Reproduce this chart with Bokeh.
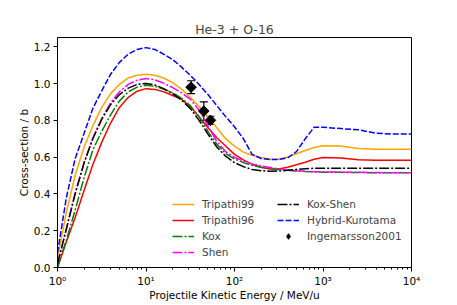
import math
from bokeh.plotting import figure
from bokeh.models import (ColumnDataSource, FixedTicker, PrintfTickFormatter, Legend,
                          LegendItem, Whisker, TeeHead)
from bokeh.embed import file_html
from bokeh.resources import INLINE

# ---------------- data ----------------
energy = [1.0, 1.26, 1.58, 2.0, 2.51, 3.16, 3.98, 5.01, 6.31, 7.94,
          10.0, 12.6, 15.8, 20.0, 25.1, 31.6, 39.8, 50.1, 63.1, 79.4,
          100, 126, 158, 200, 251, 316, 398, 501, 631, 794,
          1000, 1585, 2512, 3981, 6310, 10000]

tripathi99 = [0.05, 0.30, 0.50, 0.655, 0.77, 0.87, 0.945, 0.995, 1.03, 1.045,
              1.05, 1.045, 1.03, 1.005, 0.97, 0.925, 0.875, 0.82, 0.76, 0.70,
              0.66, 0.627, 0.61, 0.598, 0.59, 0.588, 0.60, 0.618, 0.636, 0.652,
              0.662, 0.66, 0.647, 0.643, 0.643, 0.643]

tripathi96 = [0.0, 0.14, 0.27, 0.42, 0.56, 0.68, 0.785, 0.87, 0.925, 0.958,
              0.972, 0.968, 0.955, 0.935, 0.915, 0.875, 0.82, 0.76, 0.705, 0.66,
              0.615, 0.585, 0.56, 0.545, 0.535, 0.535, 0.545, 0.558, 0.572, 0.588,
              0.598, 0.595, 0.586, 0.583, 0.583, 0.583]

kox = [0.0, 0.15, 0.31, 0.49, 0.64, 0.74, 0.83, 0.905, 0.955, 0.98,
       0.99, 0.985, 0.97, 0.95, 0.92, 0.88, 0.82, 0.74, 0.67, 0.62,
       0.59, 0.57, 0.555, 0.545, 0.538, 0.533, 0.528, 0.525, 0.522, 0.52,
       0.518, 0.517, 0.516, 0.515, 0.515, 0.515]

shen = [0.02, 0.21, 0.40, 0.57, 0.705, 0.81, 0.895, 0.955, 0.995, 1.018,
        1.027, 1.02, 1.002, 0.978, 0.95, 0.915, 0.855, 0.77, 0.685, 0.63,
        0.598, 0.578, 0.563, 0.552, 0.543, 0.536, 0.53, 0.526, 0.523, 0.521,
        0.52, 0.518, 0.517, 0.516, 0.515, 0.515]

kox_shen = [0.02, 0.21, 0.40, 0.57, 0.70, 0.805, 0.885, 0.94, 0.975, 0.995,
            1.0, 0.992, 0.972, 0.945, 0.91, 0.865, 0.80, 0.725, 0.655, 0.605,
            0.57, 0.548, 0.533, 0.526, 0.523, 0.524, 0.528, 0.533, 0.537, 0.539,
            0.54, 0.54, 0.54, 0.54, 0.54, 0.54]

hybrid_kurotama = [0.08, 0.38, 0.59, 0.73, 0.865, 0.96, 1.05, 1.115, 1.16, 1.185,
                   1.195, 1.185, 1.16, 1.13, 1.09, 1.045, 0.995, 0.94, 0.88, 0.82,
                   0.765, 0.70, 0.615, 0.592, 0.587, 0.587, 0.595, 0.63, 0.70, 0.762,
                   0.762, 0.755, 0.748, 0.73, 0.725, 0.725]

exp_energy = [32.3, 45.0, 53.5]
exp_sigma = [0.98, 0.85, 0.80]
exp_err = [0.035, 0.05, 0.022]

x_ticks = [1, 10, 100, 1000, 10000]
x_tick_labels = ["10⁰", "10¹", "10²", "10³", "10⁴"]
y_ticks = [0.0, 0.2, 0.4, 0.6, 0.8, 1.0, 1.2]

FONT = "DejaVu Sans"
FS = "10.5px"

p = figure(width=457, height=305, x_axis_type="log", x_range=(1, 1e4), y_range=(0, 1.25),
           output_backend="svg", toolbar_location=None, title="He-3 + O-16",
           min_border_left=57, min_border_right=46, min_border_top=37, min_border_bottom=38)
p.background_fill_color = "white"
p.border_fill_color = "white"
p.grid.visible = False
p.outline_line_color = "black"
p.outline_line_width = 1

p.title.align = "center"
p.title.text_font = FONT
p.title.text_font_size = "12.5px"
p.title.text_font_style = "normal"
p.title.standoff = 1

minor = [d * k for d in x_ticks[:-1] for k in range(2, 10)]
p.xaxis.ticker = FixedTicker(ticks=x_ticks, minor_ticks=minor)
p.xaxis.major_label_overrides = {t: l for t, l in zip(x_ticks, x_tick_labels)}
p.yaxis.ticker = FixedTicker(ticks=y_ticks)
p.yaxis.formatter = PrintfTickFormatter(format="%.1f")
p.yaxis.minor_tick_line_color = None

for ax in (p.xaxis, p.yaxis):
    ax.axis_line_color = "black"
    ax.major_tick_line_color = "black"
    ax.major_tick_in = 0
    ax.major_tick_out = 4
    ax.minor_tick_in = 0
    ax.minor_tick_out = 2
    ax.major_label_text_font = FONT
    ax.major_label_text_font_size = FS
    ax.major_label_text_color = "black"
    ax.axis_label_text_font = FONT
    ax.axis_label_text_font_size = FS
    ax.axis_label_text_font_style = "normal"
    ax.axis_label_text_color = "black"
    ax.major_label_standoff = 3
p.xaxis.axis_label_standoff = -1
p.yaxis.axis_label_standoff = 1
p.xaxis.axis_label = "Projectile Kinetic Energy / MeV/u"
p.yaxis.axis_label = "Cross-section / b"

src = ColumnDataSource(dict(e=energy, t99=tripathi99, t96=tripathi96, kox=kox, shen=shen,
                            ks=kox_shen, hk=hybrid_kurotama))

DASH = "6 2"
DASHDOT = "10 2 2 2"
lw = 1.5
r_t99 = p.line("e", "t99", source=src, color="orange", line_width=lw)
r_t96 = p.line("e", "t96", source=src, color="red", line_width=lw)
r_kox = p.line("e", "kox", source=src, color="green", line_width=lw, line_dash=DASHDOT)
r_shen = p.line("e", "shen", source=src, color="magenta", line_width=lw, line_dash=DASHDOT)
r_ks = p.line("e", "ks", source=src, color="black", line_width=lw, line_dash=DASHDOT)
r_hk = p.line("e", "hk", source=src, color="blue", line_width=lw, line_dash=DASH)

esrc = ColumnDataSource(dict(e=exp_energy, s=exp_sigma,
                             lo=[s - d for s, d in zip(exp_sigma, exp_err)],
                             hi=[s + d for s, d in zip(exp_sigma, exp_err)]))
wh = Whisker(source=esrc, base="e", lower="lo", upper="hi", dimension="height",
             line_color="black", line_width=1.2,
             upper_head=TeeHead(size=8, line_color="black", line_width=1.2),
             lower_head=TeeHead(size=8, line_color="black", line_width=1.2))
p.add_layout(wh)
p.scatter("e", "s", source=esrc, marker="square", size=7.5, angle=math.pi / 4,
          color="black")
# diamond drawn inside the rotated squares; serves as the legend glyph
leg_exp = p.scatter("e", "s", source=esrc, marker="diamond", size=9, color="black")

def make_legend(items, loc, gh=14):
    lg = Legend(items=items, location=loc, orientation="vertical",
                glyph_width=22, glyph_height=gh, label_height=14, spacing=2,
                padding=0, margin=0, label_standoff=8,
                border_line_color=None, background_fill_alpha=0,
                label_text_font=FONT, label_text_font_size=FS)
    p.add_layout(lg)

make_legend([LegendItem(label="Tripathi99", renderers=[r_t99]),
             LegendItem(label="Tripathi96", renderers=[r_t96]),
             LegendItem(label="Kox", renderers=[r_kox]),
             LegendItem(label="Shen", renderers=[r_shen])], (115, 8))
make_legend([LegendItem(label="Kox-Shen", renderers=[r_ks]),
             LegendItem(label="Hybrid-Kurotama", renderers=[r_hk]),
             LegendItem(label="Ingemarsson2001", renderers=[leg_exp])], (220, 24))

open("out.html", "w").write(file_html(p, INLINE))
